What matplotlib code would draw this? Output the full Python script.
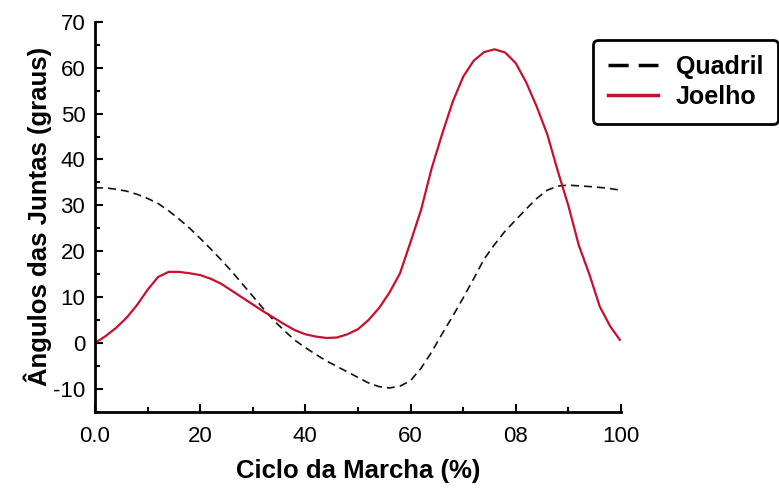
import matplotlib
matplotlib.use('Agg')
import matplotlib.pyplot as plt
from matplotlib.lines import Line2D

plt.rcParams['font.family'] = ['Liberation Sans', 'DejaVu Sans']
plt.rcParams['axes.unicode_minus'] = False

# Quadril (tracejado)
quad_x = [0, 2, 4, 6, 8, 10, 12, 14, 16, 18, 20, 22, 24, 26, 28, 30, 32, 34,
          36, 38, 40, 42, 44, 46, 48, 50, 52, 54, 56, 58, 60, 62, 64, 66, 68,
          70, 72, 74, 76, 78, 80, 82, 84, 86, 88, 90, 94, 97, 100]
quad_y = [33.8, 33.8, 33.5, 33.1, 32.4, 31.5, 30.4, 28.8, 27.0, 25.0, 22.8,
          20.5, 18.1, 15.6, 12.9, 10.2, 7.5, 4.9, 2.7, 0.6, -1.0, -2.5, -3.9,
          -5.1, -6.3, -7.5, -8.7, -9.5, -9.8, -9.4, -8.2, -5.5, -2.0, 2.0, 5.8,
          9.8, 14.0, 18.3, 21.5, 24.4, 26.8, 29.2, 31.5, 33.3, 34.2, 34.4, 34.1,
          33.8, 33.3]

# Joelho (linha vermelha)
joel_x = [0, 2, 4, 6, 8, 10, 12, 14, 16, 18, 20, 22, 24, 26, 28, 30, 32, 34,
          36, 38, 40, 42, 44, 46, 48, 50, 52, 54, 56, 58, 60, 62, 64, 66, 68,
          70, 72, 74, 76, 78, 80, 82, 84, 86, 88, 90, 92, 94, 96, 98, 99.8]
joel_y = [0, 1.5, 3.3, 5.5, 8.3, 11.6, 14.4, 15.5, 15.5, 15.2, 14.8, 14.0,
          12.9, 11.4, 9.9, 8.4, 6.9, 5.5, 4.1, 2.8, 1.9, 1.4, 1.1, 1.2, 1.9,
          3.0, 5.0, 7.6, 11.0, 15.2, 22.0, 29.0, 38.0, 45.5, 52.5, 58.0, 61.5,
          63.4, 64.0, 63.3, 61.0, 56.8, 51.5, 45.5, 37.5, 30.0, 21.3, 15.0, 7.9,
          3.6, 0.7]

xticks = [0, 20, 40, 60, 80, 100]
xtick_labels = ['0.0', '20', '40', '60', '08', '100']
yticks = [-10, 0, 10, 20, 30, 40, 50, 60, 70]

red = '#c8102e'

fig = plt.figure(figsize=(7.79, 4.95), dpi=100)
ax = fig.add_axes([0.122, 0.168, 0.675, 0.788])

ax.plot(quad_x, quad_y, color='#111111', lw=1.2, dashes=(4.8, 3))
ax.plot(joel_x, joel_y, color=red, lw=1.6)

ax.set_xlim(0, 100)
ax.set_ylim(-15, 70)
ax.set_xticks(xticks)
ax.set_xticklabels(xtick_labels)
ax.set_xticks([10, 30, 50, 70, 90], minor=True)
ax.set_yticks(yticks)
ax.set_yticks([-15, -5, 5, 15, 25, 35, 45, 55, 65], minor=True)

for s in ['top', 'right']:
    ax.spines[s].set_visible(False)
for s in ['left', 'bottom']:
    ax.spines[s].set_linewidth(2)

ax.tick_params(which='major', direction='in', length=6, width=1.5,
               labelsize=16, pad=7)
ax.tick_params(which='minor', direction='in', length=3.5, width=1.5)
ax.tick_params(axis='x', which='major', pad=10)

ax.set_xlabel('Ciclo da Marcha (%)', fontsize=18.5, fontweight='bold', labelpad=9)
ax.set_ylabel('Ângulos das Juntas (graus)', fontsize=18.5, fontweight='bold', labelpad=1)

handles = [Line2D([], [], color='black', lw=2.5, dashes=(5.8, 2.9)),
           Line2D([], [], color=red, lw=2.5)]
leg = fig.legend(handles, ['Quadril', 'Joelho'], loc='upper right',
                 bbox_to_anchor=(0.999, 0.92), fancybox=True, framealpha=1,
                 edgecolor='black', prop={'weight': 'bold', 'size': 18},
                 handlelength=2.0, handletextpad=0.72, labelspacing=0.25,
                 borderpad=0.6, borderaxespad=0)
leg.get_frame().set_linewidth(2)

fig.savefig('out.png', dpi=100)
